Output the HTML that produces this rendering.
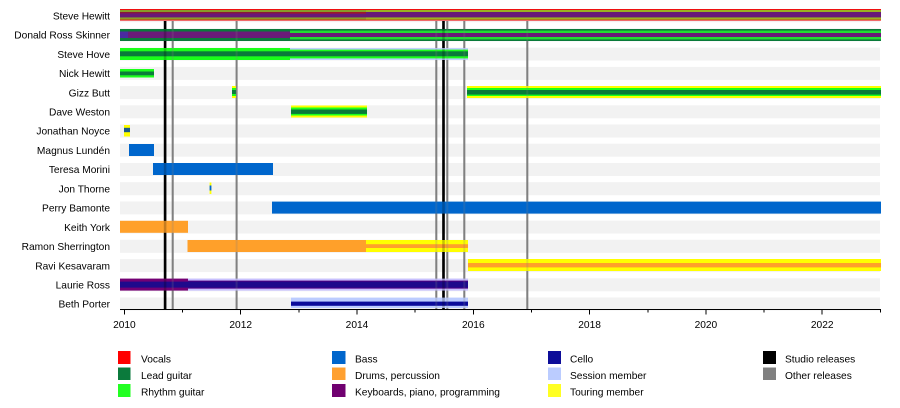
<!DOCTYPE html>
<html>
<head>
<meta charset="utf-8">
<style>
  html,body{margin:0;padding:0;background:#fff;}
  svg{display:block;}
  text{font-family:"Liberation Sans",Arial,sans-serif;font-size:10.2px;fill:#000;}
</style>
</head>
<body>
<svg width="900" height="408" viewBox="0 0 900 408" xmlns="http://www.w3.org/2000/svg">
  <!-- row background bands -->
  <g fill="#f2f2f2">
    <rect x="120" y="9.2" width="760" height="13"/>
    <rect x="120" y="28.4" width="760" height="13"/>
    <rect x="120" y="47.6" width="760" height="13"/>
    <rect x="120" y="66.9" width="760" height="13"/>
    <rect x="120" y="86.1" width="760" height="13"/>
    <rect x="120" y="105.3" width="760" height="13"/>
    <rect x="120" y="124.5" width="760" height="13"/>
    <rect x="120" y="143.7" width="760" height="13"/>
    <rect x="120" y="163.0" width="760" height="13"/>
    <rect x="120" y="182.2" width="760" height="13"/>
    <rect x="120" y="201.4" width="760" height="13"/>
    <rect x="120" y="220.6" width="760" height="13"/>
    <rect x="120" y="239.8" width="760" height="13"/>
    <rect x="120" y="259.1" width="760" height="13"/>
    <rect x="120" y="278.3" width="760" height="13"/>
    <rect x="120" y="297.5" width="760" height="13"/>
  </g>

  <!-- release lines (behind bars) -->
  <g>
    <rect x="163.8" y="21" width="2.6" height="288.5" fill="#000"/>
    <rect x="171.7" y="21" width="2" height="288.5" fill="#808080"/>
    <rect x="235.6" y="21" width="2" height="288.5" fill="#808080"/>
    <rect x="435.3" y="21" width="2" height="288.5" fill="#808080"/>
    <rect x="442.2" y="21" width="2.6" height="288.5" fill="#000"/>
    <rect x="446.3" y="21" width="2" height="288.5" fill="#808080"/>
    <rect x="463.3" y="21" width="2" height="288.5" fill="#808080"/>
    <rect x="526.3" y="21" width="2" height="288.5" fill="#808080"/>
  </g>

  <!-- Steve Hewitt -->
  <rect x="120" y="9" width="761" height="11.6" fill="#ee1010"/>
  <rect x="120" y="10" width="761" height="9.6" fill="#8a9a28"/>
  <rect x="366" y="10" width="515" height="9.6" fill="#9cb020"/>
  <rect x="120" y="12" width="761" height="5.4" fill="#681878"/>
  <rect x="120" y="12" width="246" height="1.4" fill="#8a1838"/>
  <rect x="290" y="12" width="76" height="1.6" fill="#a01828"/>

  <!-- Donald Ross Skinner -->
  <rect x="120" y="29" width="761" height="12" fill="#0a7a3a"/>
  <rect x="290" y="30.6" width="591" height="8.8" fill="#22dd33"/>
  <rect x="120" y="31.5" width="170" height="6.5" fill="#6a1a78"/>
  <rect x="290" y="33" width="591" height="4" fill="#6a1a78"/>
  <rect x="120" y="31.5" width="8" height="6.5" fill="#4a2aa0"/>

  <!-- Steve Hove -->
  <rect x="120" y="48" width="170" height="12" fill="#1aff1a"/>
  <rect x="290" y="48" width="178" height="12" fill="#c0d0ff"/>
  <rect x="290" y="49.6" width="178" height="8.8" fill="#1aff1a"/>
  <rect x="120" y="51.3" width="348" height="5" fill="#0a7a3a"/>

  <!-- Nick Hewitt -->
  <rect x="120" y="69" width="34" height="8.5" fill="#1aff1a"/>
  <rect x="120" y="71.5" width="34" height="3.8" fill="#0a7a3a"/>

  <!-- Gizz Butt -->
  <rect x="232" y="86" width="4" height="12" fill="#ffff00"/>
  <rect x="232" y="88" width="4" height="8" fill="#1aff1a"/>
  <rect x="232" y="90" width="4" height="4" fill="#0a7a3a"/>
  <rect x="467" y="86" width="414" height="12" fill="#ffff00"/>
  <rect x="467" y="88" width="414" height="8" fill="#1aff1a"/>
  <rect x="467" y="90" width="414" height="4.6" fill="#0a7a3a"/>

  <!-- Dave Weston -->
  <rect x="291" y="105.5" width="76" height="12" fill="#ffff00"/>
  <rect x="291" y="107.5" width="76" height="8" fill="#1aff1a"/>
  <rect x="291" y="109.5" width="76" height="4.4" fill="#0a7a3a"/>

  <!-- Jonathan Noyce -->
  <rect x="124" y="125" width="6" height="11.5" fill="#ffff00"/>
  <rect x="124" y="127.8" width="6" height="4.4" fill="#1a5a8a"/>

  <!-- Magnus Lundén -->
  <rect x="129" y="144" width="25" height="12" fill="#0066cc"/>

  <!-- Teresa Morini -->
  <rect x="153" y="163" width="120" height="12" fill="#0066cc"/>

  <!-- Jon Thorne -->
  <rect x="209.6" y="182.5" width="1.8" height="11.5" fill="#ffff00"/>
  <rect x="209.6" y="185.5" width="1.8" height="5" fill="#0066cc"/>

  <!-- Perry Bamonte -->
  <rect x="272" y="201.6" width="609" height="12" fill="#0066cc"/>

  <!-- Keith York -->
  <rect x="120" y="220.8" width="68" height="12" fill="#ffa02a"/>

  <!-- Ramon Sherrington -->
  <rect x="187.5" y="240" width="178.5" height="12" fill="#ffa02a"/>
  <rect x="366" y="240" width="102" height="12" fill="#ffff00"/>
  <rect x="366" y="244.2" width="102" height="3.8" fill="#ffa02a"/>

  <!-- Ravi Kesavaram -->
  <rect x="468" y="259" width="413" height="12" fill="#ffff00"/>
  <rect x="468" y="263" width="413" height="4.4" fill="#ffa02a"/>

  <!-- Laurie Ross -->
  <rect x="120" y="278.6" width="68" height="12" fill="#740074"/>
  <rect x="188" y="278.6" width="280" height="12" fill="#c8c0ff"/>
  <rect x="188" y="280.6" width="280" height="8" fill="#500080"/>
  <rect x="120" y="281.6" width="348" height="6" fill="#1e0a8c"/>

  <!-- Beth Porter -->
  <rect x="291" y="297.6" width="177" height="10.4" fill="#bcccff"/>
  <rect x="291" y="301.6" width="177" height="4.2" fill="#0a0a9a"/>

  <!-- release lines faint over bars -->
  <g opacity="0.22">
    <rect x="163.8" y="21" width="2.6" height="288.5" fill="#000"/>
    <rect x="171.7" y="21" width="2" height="288.5" fill="#808080"/>
    <rect x="235.6" y="21" width="2" height="288.5" fill="#808080"/>
    <rect x="435.3" y="21" width="2" height="288.5" fill="#808080"/>
    <rect x="442.2" y="21" width="2.6" height="288.5" fill="#000"/>
    <rect x="446.3" y="21" width="2" height="288.5" fill="#808080"/>
    <rect x="463.3" y="21" width="2" height="288.5" fill="#808080"/>
    <rect x="526.3" y="21" width="2" height="288.5" fill="#808080"/>
  </g>

  <!-- names -->
  <g text-anchor="end">
    <text x="110" y="19.4">Steve Hewitt</text>
    <text x="110" y="38.6">Donald Ross Skinner</text>
    <text x="110" y="57.8">Steve Hove</text>
    <text x="110" y="77.1">Nick Hewitt</text>
    <text x="110" y="96.3">Gizz Butt</text>
    <text x="110" y="115.5">Dave Weston</text>
    <text x="110" y="134.7">Jonathan Noyce</text>
    <text x="110" y="153.9">Magnus Lundén</text>
    <text x="110" y="173.2">Teresa Morini</text>
    <text x="110" y="192.4">Jon Thorne</text>
    <text x="110" y="211.6">Perry Bamonte</text>
    <text x="110" y="230.8">Keith York</text>
    <text x="110" y="250.0">Ramon Sherrington</text>
    <text x="110" y="269.3">Ravi Kesavaram</text>
    <text x="110" y="288.5">Laurie Ross</text>
    <text x="110" y="307.7">Beth Porter</text>
  </g>

  <!-- axis -->
  <g stroke="#000" stroke-width="1" shape-rendering="crispEdges">
    <line x1="120" y1="309.5" x2="881.2" y2="309.5"/>
    <line x1="124.4" y1="309.5" x2="124.4" y2="314.5"/>
    <line x1="182.6" y1="309.5" x2="182.6" y2="312.5"/>
    <line x1="240.7" y1="309.5" x2="240.7" y2="314.5"/>
    <line x1="298.9" y1="309.5" x2="298.9" y2="312.5"/>
    <line x1="357.0" y1="309.5" x2="357.0" y2="314.5"/>
    <line x1="415.2" y1="309.5" x2="415.2" y2="312.5"/>
    <line x1="473.3" y1="309.5" x2="473.3" y2="314.5"/>
    <line x1="531.5" y1="309.5" x2="531.5" y2="312.5"/>
    <line x1="589.6" y1="309.5" x2="589.6" y2="314.5"/>
    <line x1="647.8" y1="309.5" x2="647.8" y2="312.5"/>
    <line x1="705.9" y1="309.5" x2="705.9" y2="314.5"/>
    <line x1="764.1" y1="309.5" x2="764.1" y2="312.5"/>
    <line x1="822.2" y1="309.5" x2="822.2" y2="314.5"/>
    <line x1="880.4" y1="309.5" x2="880.4" y2="312.5"/>
  </g>
  <g text-anchor="middle">
    <text x="124.4" y="328">2010</text>
    <text x="240.7" y="328">2012</text>
    <text x="357.0" y="328">2014</text>
    <text x="473.3" y="328">2016</text>
    <text x="589.6" y="328">2018</text>
    <text x="705.9" y="328">2020</text>
    <text x="822.2" y="328">2022</text>
  </g>

  <!-- legend -->
  <rect x="118" y="351" width="12.5" height="13" fill="#ff0000"/>
  <rect x="118" y="367.5" width="12.5" height="12.5" fill="#0b7a3c"/>
  <rect x="118" y="384" width="12.5" height="13" fill="#22ff22"/>
  <text x="141" y="362.5">Vocals</text>
  <text x="141" y="379">Lead guitar</text>
  <text x="141" y="395.5">Rhythm guitar</text>

  <rect x="332" y="351" width="13.5" height="13" fill="#0066cc"/>
  <rect x="332" y="367.5" width="13.5" height="12.5" fill="#ffa030"/>
  <rect x="332" y="384" width="13.5" height="13" fill="#700070"/>
  <text x="355" y="362.5">Bass</text>
  <text x="355" y="379">Drums, percussion</text>
  <text x="355" y="395.5">Keyboards, piano, programming</text>

  <rect x="548" y="351" width="13" height="13" fill="#0d0d99"/>
  <rect x="548" y="367.5" width="13" height="12.5" fill="#bbccff"/>
  <rect x="548" y="384" width="13" height="13" fill="#ffff22"/>
  <text x="570" y="362.5">Cello</text>
  <text x="570" y="379">Session member</text>
  <text x="570" y="395.5">Touring member</text>

  <rect x="763" y="351" width="13" height="13" fill="#000000"/>
  <rect x="763" y="367.5" width="13" height="12.5" fill="#808080"/>
  <text x="785" y="362.5">Studio releases</text>
  <text x="785" y="379">Other releases</text>
</svg>
</body>
</html>
